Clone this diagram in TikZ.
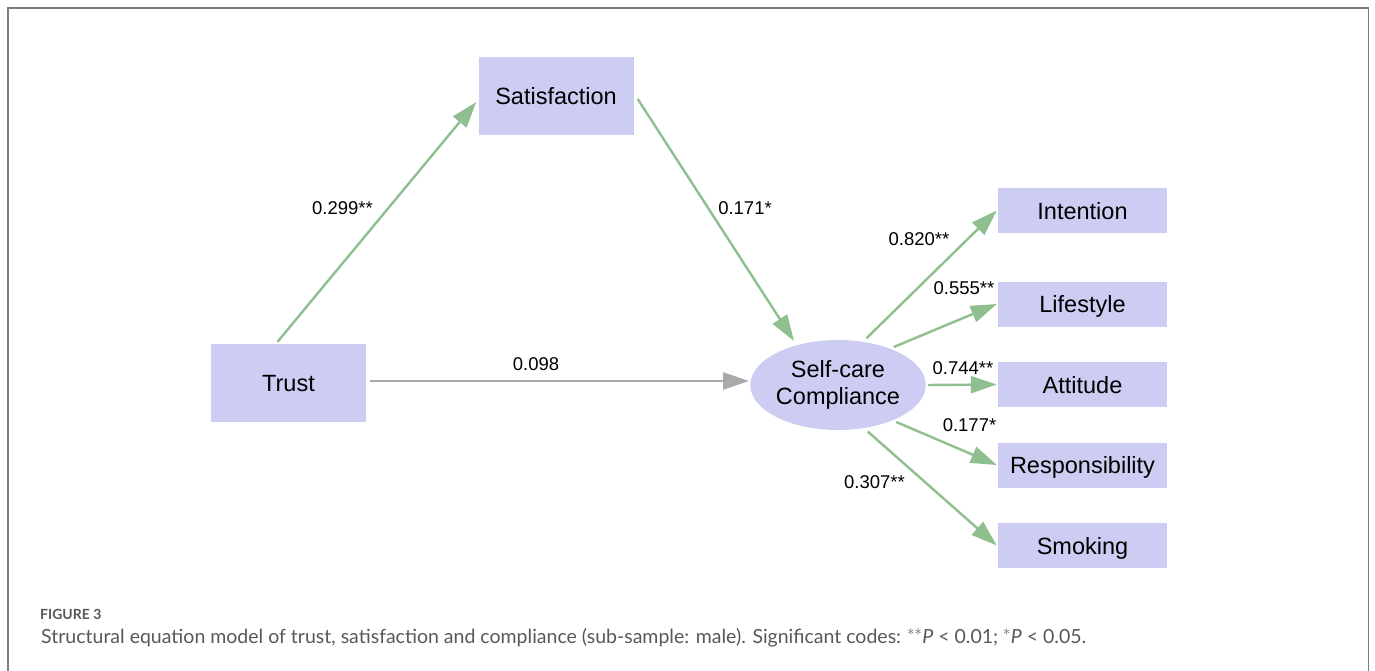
\documentclass[tikz,border=0pt]{standalone}
\usepackage{fontspec}
\setmainfont{Liberation Sans}
\newfontfamily\capfont{Lato}
\usetikzlibrary{arrows.meta,shapes.geometric}

\definecolor{boxfill}{RGB}{205,205,243}
\definecolor{pathgreen}{RGB}{143,191,143}
\definecolor{pathgray}{RGB}{170,170,170}
\definecolor{framegray}{RGB}{125,125,125}
\definecolor{captext}{RGB}{88,88,88}

\begin{document}
\begin{tikzpicture}[x=1pt,y=-1pt,
  varbox/.style={rectangle,fill=boxfill,inner sep=0pt,
    font=\fontsize{23.5}{27}\selectfont,text height=17pt,text depth=0pt},
  bigbox/.style={varbox,minimum width=155pt,minimum height=78pt},
  indbox/.style={varbox,minimum width=169pt,minimum height=45pt},
  latent/.style={ellipse,fill=boxfill,inner sep=0pt,minimum width=170pt,
    minimum height=90pt,align=center,font=\fontsize{23.5}{27}\selectfont},
  coef/.style={inner sep=0pt,font=\fontsize{18.5}{21}\selectfont},
  sigpath/.style={draw=pathgreen,line width=2.4pt,
    -{Triangle[length=26pt,width=17pt]}},
  nspath/.style={draw=pathgray,line width=2.4pt,
    -{Triangle[length=26pt,width=17pt]}}]

\useasboundingbox (0,0) rectangle (1375,671);

% open frame (no bottom edge)
\draw[framegray,line width=1.3pt] (8,671) -- (8,8) -- (1368.5,8) -- (1368.5,671);

% variables
\node[bigbox] (sat)   at (556,96)     {Satisfaction};
\node[bigbox] (trust) at (288.5,383)  {Trust};
\node[latent] (self)  at (838,385)    {Self-care\\Compliance};
\node[indbox] (int)   at (1082.5,210.5) {Intention};
\node[indbox] (life)  at (1082.5,304)   {Lifestyle};
\node[indbox] (att)   at (1082.5,384.5) {Attitude};
\node[indbox] (resp)  at (1082.5,465)   {Responsibility};
\node[indbox] (smoke) at (1082.5,545.5) {Smoking};

% structural paths
\draw[sigpath] ([xshift=-11pt,yshift=2pt]trust.north) -- ([xshift=-2pt,yshift=-6pt]sat.west);
\draw[sigpath,shorten >=5pt] ([xshift=4pt,yshift=-3pt]sat.east) -- (self.136);
\draw[nspath] ([xshift=4pt,yshift=2pt]trust.east) -- ([xshift=-1pt,yshift=4pt]self.west);

% measurement paths
\draw[sigpath,shorten <=5pt] (self.60)  -- ([xshift=-1pt]int.west);
\draw[sigpath,shorten <=4pt] (self.35)  -- ([xshift=-1pt]life.west);
\draw[sigpath,shorten <=2pt] (self.0)   -- ([xshift=-1pt]att.west);
\draw[sigpath,shorten <=4pt] (self.-33) -- ([xshift=-1pt]resp.west);
\draw[sigpath,shorten <=5pt] (self.-59) -- ([xshift=-1pt]smoke.west);

% path coefficients
\node[coef] (c1) at (342.5,208) {0.299**};
\node[coef] (c2) at (745,208)   {0.171*};
\node[coef] (c3) at (536,364.5) {0.098};
\node[coef] (c4) at (919,239.5) {0.820**};
\node[coef] (c5) at (964,288)   {0.555**};
\node[coef] (c6) at (963,368)   {0.744**};
\node[coef] (c7) at (969.5,425) {0.177*};
\node[coef] (c8) at (874.5,482) {0.307**};

% caption
\node[anchor=base west,inner sep=0pt,text=captext,
  font=\capfont\bfseries\fontsize{14}{17}\selectfont] (fig) at (40,619) {FIGURE 3};
\node[anchor=base west,inner sep=0pt,text=captext,
  font=\capfont\fontsize{19.5}{23}\selectfont] (cap) at (41,643.3)
  {Structural equation model of trust, satisfaction and compliance (sub-sample: male). Significant codes: $^{**}$\textit{P} < 0.01; $^{*}$\textit{P} < 0.05.};
\end{tikzpicture}
\end{document}
